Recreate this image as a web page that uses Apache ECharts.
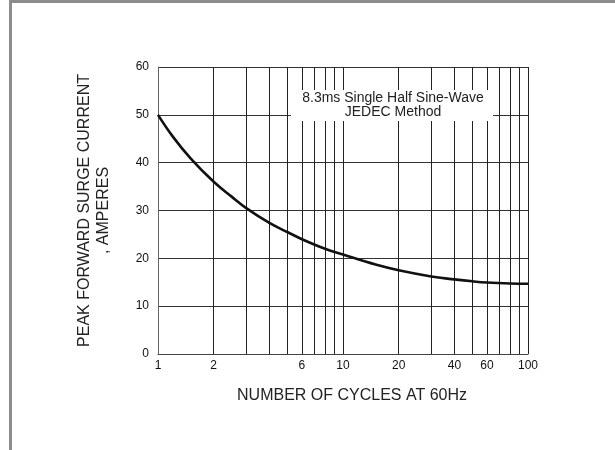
<!DOCTYPE html>
<html>
<head>
<meta charset="utf-8">
<script src="https://cdn.jsdelivr.net/npm/echarts@6/dist/echarts.min.js"></script>
<style>
  html, body { margin: 0; padding: 0; background: #fff; }
  #main { position: absolute; left: 0; top: 0; width: 615px; height: 450px; }
  .frame {
    position: absolute; left: 9px; top: 0; right: 0; bottom: 0;
    border-top: 3px solid #8c8c8c; border-left: 3px solid #8c8c8c;
    pointer-events: none;
  }
</style>
</head>
<body>
<div id="main"></div>
<div class="frame"></div>
<script>
// surge current vs number of cycles
const cycles  = [1, 1.2, 1.5, 2, 2.5, 3, 4, 5, 6, 8, 10, 15, 20, 30, 40, 50, 60, 80, 100];
const current = [50, 45.5, 40.9, 36, 32.9, 30.5, 27.4, 25.5, 24, 22, 20.8, 18.7, 17.5, 16.2, 15.6, 15.2, 14.95, 14.75, 14.7];

// vertical grid lines and labelled ticks on the log axis
const gridX  = [2, 3, 4, 5, 6, 7, 8, 9, 10, 20, 30, 40, 50, 60, 70, 80, 90, 100];
const xTicks = [1, 2, 6, 10, 20, 40, 60, 100];

const font = 'Liberation Sans, Arial, sans-serif';
const myChart = echarts.init(document.getElementById('main'));

const option = {
  animation: false,
  grid: { left: 158, right: 87, top: 67, bottom: 96 },
  xAxis: {
    type: 'log',
    logBase: 10,
    min: 1,
    max: 100,
    name: 'NUMBER OF CYCLES AT 60Hz',
    nameLocation: 'middle',
    nameGap: 34,
    nameTextStyle: { fontFamily: font, fontSize: 16, color: '#222', padding: [0, 0, 0, 18] },
    axisLine: { show: true, lineStyle: { color: '#444', width: 1 } },
    axisTick: { show: false },
    splitLine: { show: false },
    axisLabel: {
      customValues: xTicks,
      margin: 6,
      fontFamily: font,
      fontSize: 12,
      color: '#111'
    }
  },
  yAxis: {
    type: 'value',
    min: 0,
    max: 60,
    interval: 10,
    name: 'PEAK FORWARD SURGE CURRENT\n, AMPERES',
    nameLocation: 'middle',
    nameRotate: 90,
    nameGap: 45,
    nameTextStyle: { fontFamily: font, fontSize: 16, color: '#222', lineHeight: 19 },
    axisLine: { show: true, lineStyle: { color: '#666', width: 1 } },
    axisTick: { show: false },
    splitLine: { show: true, lineStyle: { color: '#333', width: 1 } },
    axisLabel: { margin: 9, fontFamily: font, fontSize: 12, color: '#111' }
  },
  graphic: [
    { type: 'rect', z: 100, shape: { x: 291, y: 90, width: 202, height: 31 }, style: { fill: '#fff' } },
    {
      type: 'text', z: 101, x: 393, y: 105,
      style: {
        text: '8.3ms Single Half Sine-Wave\nJEDEC Method',
        font: '14px ' + font, fill: '#222',
        align: 'center', verticalAlign: 'middle', lineHeight: 14
      }
    }
  ],
  series: [{
    name: 'Surge',
    type: 'line',
    data: cycles.map((c, i) => [c, current[i]]),
    smooth: 0.4,
    showSymbol: false,
    lineStyle: { color: '#111', width: 2.6 },
    z: 5,
    markLine: {
      silent: true,
      symbol: ['none', 'none'],
      label: { show: false },
      lineStyle: { type: 'solid', color: '#222', width: 1 },
      data: gridX.map(v => ({ xAxis: v }))
    }
  }]
};
myChart.setOption(option);
</script>
</body>
</html>
